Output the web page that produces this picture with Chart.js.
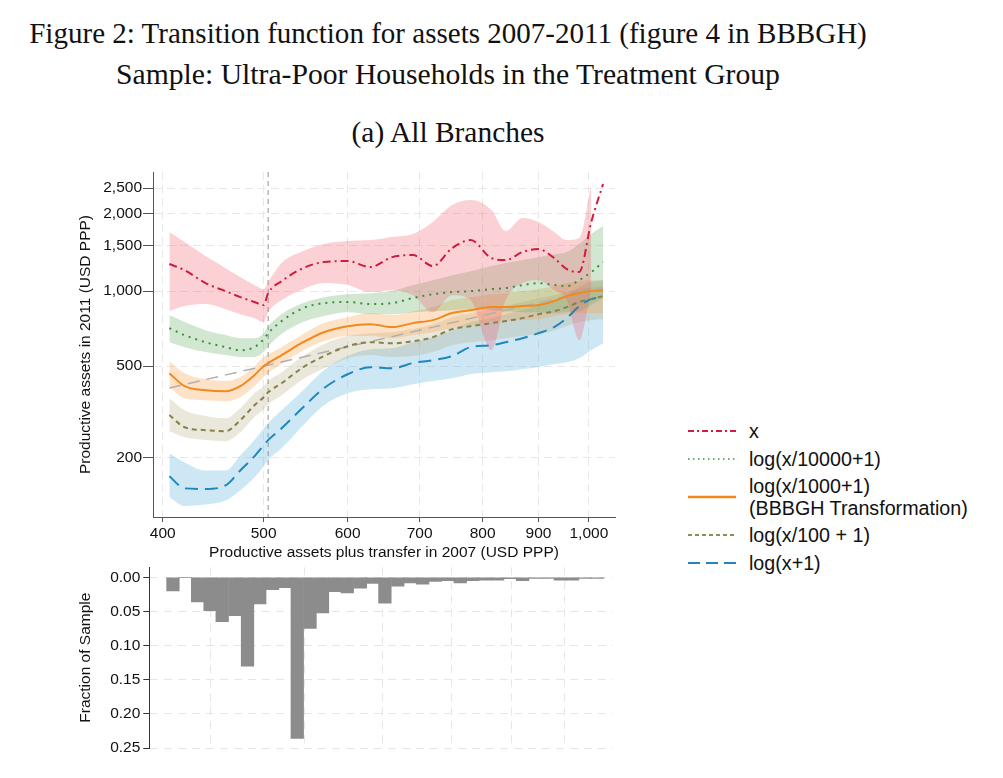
<!DOCTYPE html>
<html><head><meta charset="utf-8">
<script src="https://cdn.jsdelivr.net/npm/chart.js@4.4.1/dist/chart.umd.min.js"></script>
<style>
html,body{margin:0;padding:0;background:#fff;}
body{width:1003px;height:778px;position:relative;overflow:hidden;font-family:'Liberation Sans',Arial,sans-serif;color:#111;}
.ttl{position:absolute;left:448px;white-space:nowrap;font-family:'Liberation Serif','Times New Roman',serif;line-height:1;transform:translate(-50%,-50%);color:#111;}
.cv{position:absolute;left:0;}
.lg-s{position:absolute;left:686px;width:52px;height:10px;}
.lg-t{position:absolute;left:749px;font-size:19.7px;line-height:1;transform:translateY(-50%);white-space:nowrap;color:#111;}
</style></head><body>
<div class="ttl" data-w="838" style="top:34px">Figure 2: Transition function for assets 2007-2011 (figure 4 in BBBGH)</div>
<div class="ttl" data-w="664" style="top:75px">Sample: Ultra-Poor Households in the Treatment Group</div>
<div class="ttl" data-w="193" style="top:133px">(a) All Branches</div>
<canvas id="topChart" class="cv" width="640" height="402" style="top:160px"></canvas>
<canvas id="histChart" class="cv" width="640" height="212" style="top:555px"></canvas>

<svg class="lg-s" style="top:426px" width="52" height="10"><line x1="2" y1="5" x2="50" y2="5" stroke="#d01c3c" stroke-width="2" stroke-dasharray="6,3,2,3"/></svg>
<div class="lg-t" style="top:432px">x</div>
<svg class="lg-s" style="top:454px" width="52" height="10"><line x1="2" y1="5" x2="50" y2="5" stroke="#6aae6a" stroke-width="2" stroke-dasharray="1.5,3.5"/></svg>
<div class="lg-t" style="top:459.5px">log(x/10000+1)</div>
<svg class="lg-s" style="top:492px" width="52" height="10"><line x1="2" y1="5" x2="50" y2="5" stroke="#f08a1c" stroke-width="2.5"/></svg>
<div class="lg-t" style="top:487px">log(x/1000+1)</div>
<div class="lg-t" style="top:509px">(BBBGH Transformation)</div>
<svg class="lg-s" style="top:530px" width="52" height="10"><line x1="2" y1="5" x2="50" y2="5" stroke="#8f8c55" stroke-width="2" stroke-dasharray="4,3"/></svg>
<div class="lg-t" style="top:536px">log(x/100 + 1)</div>
<svg class="lg-s" style="top:558px" width="52" height="10"><line x1="2" y1="5" x2="50" y2="5" stroke="#1f87bd" stroke-width="2.2" stroke-dasharray="12,6"/></svg>
<div class="lg-t" style="top:564px">log(x+1)</div>

<script>
// ---------------- DATA ----------------
// x grid: productive assets plus transfer in 2007 (USD PPP)
const xs = [406, 420, 440, 460, 475, 490, 500, 505, 520, 545, 570, 600, 630, 660, 690, 720, 750, 780, 815, 840, 870, 900, 930, 955, 980, 1005, 1030];

// series: x
const lineX   = [1276, 1208, 1075, 1000, 947, 906, 881, 982, 1094, 1230, 1299, 1310, 1242, 1357, 1382, 1253, 1471, 1580, 1346, 1322, 1420, 1458, 1346, 1219, 1187, 1854, 2591];
const bandXLo = [833, 873, 889, 849, 811, 782, 754, 826, 922, 1018, 1075, 1056, 991, 1009, 964, 826, 964, 922, 581, 922, 1075, 1104, 1009, 922, 638, 1009, null];
const bandXHi = [1697, 1552, 1370, 1230, 1135, 1056, 1018, 1085, 1287, 1432, 1525, 1566, 1580, 1623, 1667, 1854, 2154, 2251, 2061, 1712, 1921, 1854, 1697, 1580, 1608, 2568, null];

// series: log(x/10000+1)
const lineG   = [713, 669, 626, 598, 581, 598, 644, 681, 761, 857, 897, 906, 889, 897, 939, 973, 991, 1000, 1018, 1028, 1056, 1075, 1056, 1046, 1104, 1187, 1299];
const bandGLo = [626, 598, 571, 555, 545, 545, 571, 603, 675, 754, 797, 826, 811, 811, 826, 833, 841, 849, 841, 833, 826, 826, 818, 826, 833, 881, 939];
const bandGHi = [804, 754, 700, 669, 650, 650, 681, 726, 811, 897, 947, 973, 982, 1000, 1056, 1104, 1155, 1197, 1253, 1287, 1322, 1357, 1394, 1420, 1525, 1667, 1789];

// series: log(x/1000+1) (BBBGH Transformation)
const lineO   = [468, 413, 397, 393, 413, 459, 500, 515, 555, 626, 687, 726, 740, 720, 747, 768, 819, 841, 865, 865, 873, 881, 914, 956, 982, 1000, 1009];
const bandOLo = [409, 367, 360, 357, 371, 413, 451, 468, 510, 581, 632, 663, 663, 650, 669, 687, 713, 733, 754, 761, 768, 775, 797, 811, 818, 818, 818];
const bandOHi = [524, 468, 442, 434, 451, 500, 545, 560, 598, 675, 747, 789, 818, 804, 833, 865, 922, 947, 973, 982, 1000, 1018, 1046, 1075, 1094, 1104, 1104];

// series: log(x/100 + 1)
const lineL   = [311, 275, 267, 264, 295, 343, 371, 389, 425, 495, 550, 603, 626, 620, 632, 656, 707, 726, 747, 761, 782, 811, 833, 865, 906, 930, 956];
const bandLLo = [264, 248, 241, 238, 261, 305, 329, 346, 378, 442, 490, 539, 555, 545, 550, 571, 609, 626, 638, 650, 663, 675, 700, 726, 754, 768, 775];
const bandLHi = [367, 326, 308, 301, 333, 386, 413, 434, 472, 550, 615, 663, 681, 687, 707, 740, 789, 818, 849, 873, 906, 939, 964, 991, 1018, 1037, 1046];

// series: log(x+1)
const lineB   = [163, 142, 141, 147, 174, 203, 228, 241, 272, 336, 405, 463, 495, 490, 515, 529, 550, 598, 609, 626, 650, 681, 720, 782, 873, 930, 947];
const bandBLo = [128, 115, 117, 123, 139, 161, 182, 195, 221, 281, 343, 386, 401, 405, 421, 434, 446, 463, 472, 476, 486, 495, 510, 519, 539, 581, 620];
const bandBHi = [210, 190, 174, 174, 205, 241, 272, 287, 326, 397, 481, 550, 587, 592, 626, 656, 700, 754, 782, 811, 841, 881, 922, 964, 1037, 1085, 1104];

// 45-degree reference line end points (x = y)
const diagX = [406, 1030];

// vertical reference line
const thresholdX = 505;

// tick labels
const xTickValues = [400, 500, 600, 700, 800, 900, 1000];
const yTickValues = [200, 500, 1000, 1500, 2000, 2500];
const histTickValues = [0, 0.05, 0.10, 0.15, 0.20, 0.25];

// histogram of the sample (bin centres and fractions)
const binCenters = [412, 423, 435, 447, 459, 472, 485, 498, 512, 526, 540, 555, 570, 585, 601, 618, 634, 651, 669, 687, 705, 724, 743, 763, 783, 804, 825, 847, 869, 892, 916, 940, 964, 989, 1015];
const fractions  = [0.020, 0, 0.036, 0.049, 0.065, 0.056, 0.130, 0.039, 0.018, 0.015, 0.236, 0.075, 0.052, 0.021, 0.023, 0.016, 0.009, 0.038, 0.013, 0.008, 0.010, 0.006, 0.005, 0.008, 0.005, 0.004, 0.004, 0.002, 0.005, 0.0015, 0.0015, 0.004, 0.004, 0.0015, 0.0015];

// ---------------- TITLES (fit width) ----------------
document.querySelectorAll('.ttl').forEach(el => {
  el.style.fontSize = '24px';
  const w = el.getBoundingClientRect().width;
  el.style.fontSize = (24 * (+el.dataset.w) / w) + 'px';
});

// ---------------- SCALE ----------------
const SHIFT = 50;
class ShiftLogScale extends Chart.LinearScale {
  static id = 'shiftlog';
  buildTicks() { return []; }
  _t(v) { return Math.log(v + SHIFT); }
  getPixelForValue(v) {
    if (v === null || v === undefined || isNaN(v)) return NaN;
    const a = this._t(this.min), b = this._t(this.max);
    return this.getPixelForDecimal((this._t(v) - a) / (b - a));
  }
  getValueForPixel(p) {
    const a = this._t(this.min), b = this._t(this.max);
    return Math.exp(a + this.getDecimalForPixel(p) * (b - a)) - SHIFT;
  }
}
Chart.register(ShiftLogScale);

const FONT = "'Liberation Sans', Arial, Helvetica, sans-serif";
Chart.defaults.font.family = FONT;
Chart.defaults.animation = false;
const fmt = v => Number(v).toLocaleString('en-US');

// ---------------- TOP CHART ----------------
const pts = arr => xs.map((x, i) => ({x: x, y: arr[i]}));
const series = [
  {line: lineX, lo: bandXLo, hi: bandXHi, color: '#d01c3c', dash: [8, 4, 2, 4], fill: 'rgba(245,90,105,0.28)', width: 2},
  {line: lineG, lo: bandGLo, hi: bandGHi, color: '#3a8f3a', dash: [2, 5], fill: 'rgba(90,170,90,0.28)', width: 2},
  {line: lineO, lo: bandOLo, hi: bandOHi, color: '#f08a1c', dash: [], fill: 'rgba(250,160,70,0.30)', width: 2},
  {line: lineL, lo: bandLLo, hi: bandLHi, color: '#86824e', dash: [5, 4], fill: 'rgba(170,160,110,0.25)', width: 2},
  {line: lineB, lo: bandBLo, hi: bandBHi, color: '#1f87bd', dash: [13, 7], fill: 'rgba(100,180,225,0.32)', width: 2}
];
const datasets = [];
series.forEach(s => datasets.push({
  data: pts(s.line), borderColor: s.color, borderWidth: s.width, borderDash: s.dash,
  pointRadius: 0, fill: false, order: 0, cubicInterpolationMode: 'monotone'
}));
datasets.push({
  data: diagX.map(v => ({x: v, y: v})), borderColor: '#b0b0b0', borderWidth: 1.5, borderDash: [12, 7],
  pointRadius: 0, fill: false, order: 1
});
series.forEach(s => {
  const hiIdx = datasets.length;
  datasets.push({data: pts(s.hi), borderWidth: 0, pointRadius: 0, fill: false, order: 5, cubicInterpolationMode: 'monotone'});
  datasets.push({data: pts(s.lo), borderWidth: 0, pointRadius: 0, fill: hiIdx, backgroundColor: s.fill, order: 5, cubicInterpolationMode: 'monotone'});
});

const vlinePlugin = {
  id: 'vline',
  beforeDatasetsDraw(chart) {
    const {ctx, chartArea, scales} = chart;
    const px = scales.x.getPixelForValue(thresholdX);
    ctx.save();
    ctx.strokeStyle = '#b8b8b8'; ctx.lineWidth = 1.5; ctx.setLineDash([5, 4]);
    ctx.beginPath(); ctx.moveTo(px, chartArea.top); ctx.lineTo(px, chartArea.bottom); ctx.stroke();
    ctx.restore();
  }
};

const tickFont = {family: FONT, size: 15.5};
new Chart(document.getElementById('topChart'), {
  type: 'line',
  data: {datasets: datasets},
  plugins: [vlinePlugin],
  options: {
    responsive: false, animation: false, devicePixelRatio: 1,
    layout: {padding: {left: 73, top: 12, right: 25, bottom: 0}},
    plugins: {legend: {display: false}, tooltip: {enabled: false}},
    elements: {line: {tension: 0}},
    scales: {
      x: {
        type: 'shiftlog', min: 391.4, max: 1056, position: 'bottom',
        afterBuildTicks: s => { s.ticks = xTickValues.map(v => ({value: v})); },
        afterFit: s => { s.height = 45; },
        ticks: {autoSkip: false, maxRotation: 0, padding: 2, color: '#111', font: tickFont, callback: v => fmt(v)},
        grid: {color: '#e8e8e8', lineWidth: 1, tickLength: 5, tickColor: '#555', tickWidth: 1},
        border: {display: true, color: '#555', width: 1, dash: [8, 5]},
        title: {display: true, text: 'Productive assets plus transfer in 2007 (USD PPP)', color: '#111', font: tickFont, padding: {top: 0, bottom: 0}}
      },
      y: {
        type: 'shiftlog', min: 100, max: 2880, position: 'left',
        afterBuildTicks: s => { s.ticks = yTickValues.map(v => ({value: v})); },
        afterFit: s => { s.width = 80; },
        ticks: {autoSkip: false, padding: 1, color: '#111', font: tickFont, callback: v => fmt(v)},
        grid: {color: '#e8e8e8', lineWidth: 1, tickLength: 10, tickColor: '#555', tickWidth: 1},
        border: {display: true, color: '#555', width: 1, dash: [8, 5]},
        title: {display: true, text: 'Productive assets in 2011 (USD PPP)', color: '#111', font: tickFont, padding: {top: 3, bottom: 0}}
      }
    }
  }
});

// ---------------- HISTOGRAM ----------------
new Chart(document.getElementById('histChart'), {
  type: 'bar',
  data: {datasets: [{
    data: binCenters.map((x, i) => ({x: x, y: fractions[i]})),
    backgroundColor: '#8c8c8c', borderWidth: 0, barThickness: 12.6
  }]},
  options: {
    responsive: false, animation: false, devicePixelRatio: 1,
    layout: {padding: {left: 73, top: 12.3, right: 27, bottom: 0}},
    plugins: {legend: {display: false}, tooltip: {enabled: false}},
    scales: {
      x: {
        type: 'shiftlog', min: 391, max: 1048, position: 'bottom',
        afterBuildTicks: s => { s.ticks = xTickValues.map(v => ({value: v})); },
        afterFit: s => { s.height = 19; },
        ticks: {display: false},
        grid: {color: '#e6e6e6', lineWidth: 1, drawTicks: false},
        border: {display: false, dash: [8, 6]}
      },
      y: {
        type: 'linear', reverse: true, min: -0.0147, max: 0.25,
        afterBuildTicks: s => { s.ticks = histTickValues.map(v => ({value: v})); },
        afterFit: s => { s.width = 76.3; },
        ticks: {autoSkip: false, padding: 3, color: '#111', font: tickFont, callback: v => Number(v).toFixed(2)},
        grid: {color: '#e6e6e6', lineWidth: 1, tickLength: 6, tickColor: '#333', tickWidth: 1},
        border: {display: true, color: '#333', width: 1, dash: [8, 6]},
        title: {display: true, text: 'Fraction of Sample', color: '#111', font: tickFont, padding: {top: 3, bottom: 0}}
      }
    }
  }
});
</script>
</body></html>
